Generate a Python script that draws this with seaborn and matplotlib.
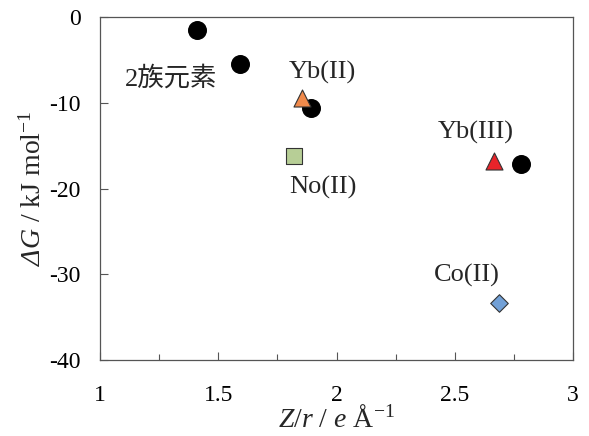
import matplotlib
matplotlib.use('Agg')
import matplotlib.pyplot as plt
import seaborn as sns
import pandas as pd

# ---------------------------------------------------------------- données
grp2_x = [1.41, 1.59, 1.89, 2.78]
grp2_y = [-1.5, -5.5, -10.6, -17.1]

yb2_x, yb2_y = [1.855], [-9.4]
no2_x, no2_y = [1.82], [-16.2]
yb3_x, yb3_y = [2.665], [-16.8]
co2_x, co2_y = [2.685], [-33.3]

labels = ['2族元素', 'Yb(II)', 'No(II)', 'Yb(III)', 'Co(II)']
label_x = [1.30, 1.94, 1.94, 2.59, 2.55]
label_y = [-7.1, -6.5, -19.9, -13.5, -30.1]

# ---------------------------------------------------------------- style
sns.set_style('white')
plt.rcParams['font.family'] = ['Liberation Serif', 'Noto Sans CJK JP']
plt.rcParams['mathtext.fontset'] = 'custom'
plt.rcParams['mathtext.rm'] = 'Liberation Serif'
plt.rcParams['mathtext.it'] = 'Liberation Serif:italic'
plt.rcParams['mathtext.sf'] = 'Liberation Serif:italic'  # pour un Δ penché

fig, ax = plt.subplots(figsize=(5.89, 4.36), dpi=100)
fig.subplots_adjust(left=0.170, right=0.973, bottom=0.174, top=0.961)

sns.scatterplot(x=grp2_x, y=grp2_y, ax=ax, marker='o', s=160, color='black', edgecolor='black', zorder=3)
sns.scatterplot(x=yb2_x, y=yb2_y, ax=ax, marker='^', s=150, color='#F08A4B', edgecolor='#333333', linewidth=0.8, zorder=4)
sns.scatterplot(x=no2_x, y=no2_y, ax=ax, marker='s', s=130, color='#B7CE96', edgecolor='#333333', linewidth=0.8, zorder=4)
sns.scatterplot(x=yb3_x, y=yb3_y, ax=ax, marker='^', s=150, color='#E8242A', edgecolor='#333333', linewidth=0.8, zorder=4)
sns.scatterplot(x=co2_x, y=co2_y, ax=ax, marker='D', s=80, color='#72A0D6', edgecolor='#333333', linewidth=0.8, zorder=4)

for t, lx, ly in zip(labels, label_x, label_y):
    ax.text(lx, ly, t, fontsize=19, ha='center', va='center')

ax.set_xlim(1, 3)
ax.set_ylim(-40, 0)
ax.set_xticks([1, 1.5, 2, 2.5, 3])
ax.set_xticklabels(['1', '1.5', '2', '2.5', '3'])
ax.set_xticks([1.25, 1.75, 2.25, 2.75], minor=True)
ax.set_yticks([0, -10, -20, -30, -40])
ax.set_yticklabels(['0', '-10', '-20', '-30', '-40'])
ax.tick_params(axis='both', which='major', direction='in', length=6, width=0.8, labelsize=17, colors='#555555', labelcolor='black')
ax.tick_params(axis='x', which='major', pad=18, bottom=True)
ax.tick_params(axis='y', which='major', pad=14, left=True)
ax.tick_params(axis='x', which='minor', direction='in', length=4, width=0.8, colors='#555555', bottom=True)
for sp in ax.spines.values():
    sp.set_color('#555555')
    sp.set_linewidth(0.9)

ax.set_xlabel(r'$Z$/$r$ / $e$ Å$^{-1}$', fontsize=20, labelpad=0)
ax.set_ylabel(r'$\mathsf{Δ}\mathit{G}$ / kJ mol$^{-1}$', fontsize=20, labelpad=2)

plt.savefig('out.png', dpi=100)
